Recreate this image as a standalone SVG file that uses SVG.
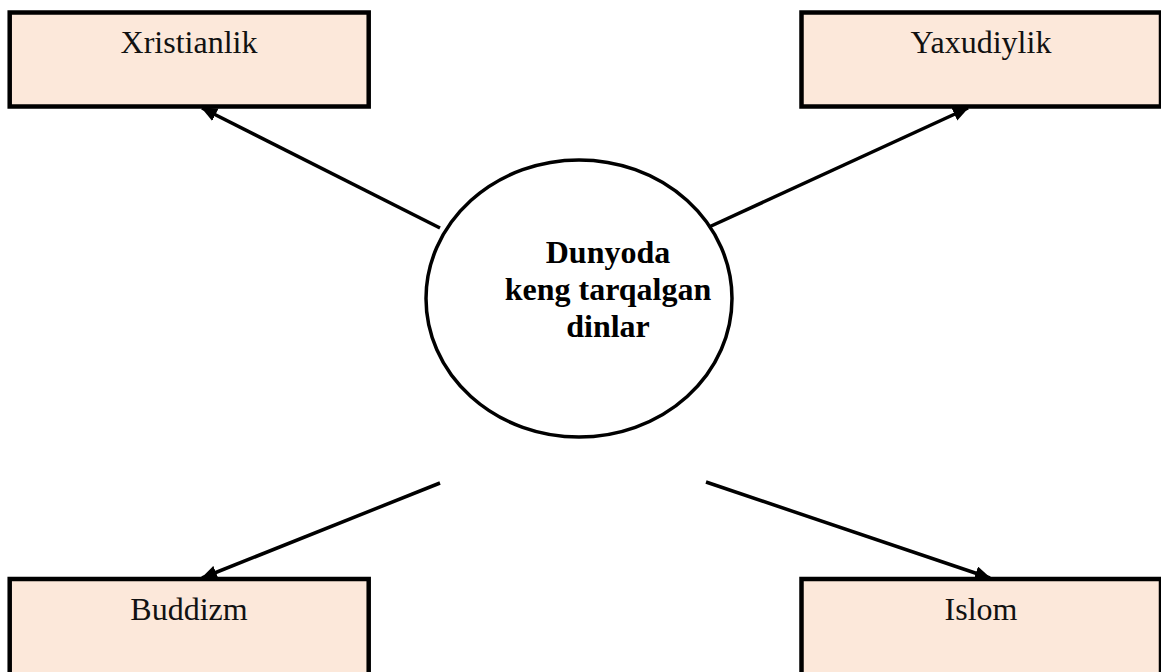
<svg xmlns="http://www.w3.org/2000/svg" width="1161" height="672" viewBox="0 0 1161 672">
<style>
.box{fill:#FCE8DA;stroke:#000;stroke-width:4.5}
.lbl{font-family:"Liberation Serif","Times New Roman",serif;font-size:32px;fill:#111;text-anchor:middle}
.ctr{font-family:"Liberation Serif","Times New Roman",serif;font-size:32px;font-weight:bold;fill:#000;text-anchor:middle}
.conn{stroke:#000;stroke-width:3.5;fill:none;marker-end:url(#arr)}
</style>
<defs>
<marker id="arr" markerUnits="userSpaceOnUse" markerWidth="16" markerHeight="14" viewBox="0 0 16 14" refX="15" refY="7" orient="auto">
<path d="M0,0 L16,7 L0,14 Z" fill="#000"/>
</marker>
</defs>
<rect width="1161" height="672" fill="#fff"/>
<g id="connectors">
<line class="conn" x1="440" y1="228" x2="202" y2="108"/>
<line class="conn" x1="709" y1="227" x2="968" y2="108"/>
<line class="conn" x1="440" y1="483" x2="202" y2="578"/>
<line class="conn" x1="706" y1="482" x2="990" y2="578"/>
</g>
<g id="center">
<ellipse cx="579" cy="298.5" rx="153" ry="138.5" fill="#fff" stroke="#000" stroke-width="3.5"/>
<text class="ctr" x="608" y="263">Dunyoda</text>
<text class="ctr" x="608" y="300">keng tarqalgan</text>
<text class="ctr" x="608" y="337">dinlar</text>
</g>
<g id="xristianlik">
<rect class="box" x="9.7" y="12.5" width="359" height="94"/>
<text class="lbl" x="189" y="53">Xristianlik</text>
</g>
<g id="yaxudiylik">
<rect class="box" x="801.5" y="12.5" width="359.5" height="94"/>
<text class="lbl" x="981" y="53">Yaxudiylik</text>
</g>
<g id="buddizm">
<rect class="box" x="9.7" y="579" width="359" height="110"/>
<text class="lbl" x="189" y="620">Buddizm</text>
</g>
<g id="islom">
<rect class="box" x="801.5" y="579" width="359.5" height="110"/>
<text class="lbl" x="981" y="620">Islom</text>
</g>
</svg>
